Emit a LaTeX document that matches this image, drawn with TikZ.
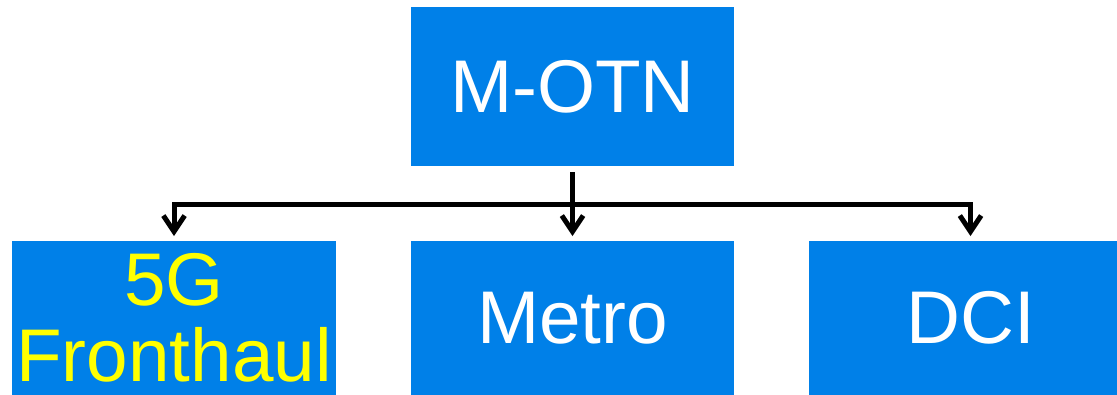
\documentclass[tikz,border=0pt]{standalone}
\usepackage{fontspec}
\setmainfont{Liberation Sans}
\usetikzlibrary{arrows.meta}
\definecolor{boxblue}{RGB}{0,128,232}
\definecolor{txtyellow}{RGB}{255,255,0}
\tikzset{
  blockbox/.style={fill=boxblue, draw=none, inner sep=0pt, align=center,
    text=white, font=\fontsize{56}{57}\selectfont},
  conn/.style={line width=3.75pt, draw=black,
    -{Straight Barb[length=12pt,width=16pt,line width=3.75pt]}}
}
\begin{document}
\begin{tikzpicture}[x=0.75pt,y=-0.75pt]
\useasboundingbox (0,0) rectangle (1117,395);
\clip (0,0) rectangle (1117,395);
\node[blockbox, minimum width=323*0.75pt, minimum height=159*0.75pt] (top) at (572.5,86.5) {M-OTN};
\node[blockbox, minimum width=324*0.75pt, minimum height=154*0.75pt, text=txtyellow] (b1) at (174,318) {5G\\Fronthaul};
\node[blockbox, minimum width=323*0.75pt, minimum height=154*0.75pt] (b2) at (572.5,318) {Metro};
\node[blockbox, minimum width=323*0.75pt, minimum height=154*0.75pt] (b3) at (970.5,318) {DCI};
\coordinate (j) at (572.5,205);
\draw[conn, shorten <=4.5pt, shorten >=3.5pt] (top.south) -- (b2.north);
\draw[conn, shorten >=3.5pt] (j) -| (b1.north);
\draw[conn, shorten >=3.5pt] (j) -| (b3.north);
\end{tikzpicture}
\end{document}
